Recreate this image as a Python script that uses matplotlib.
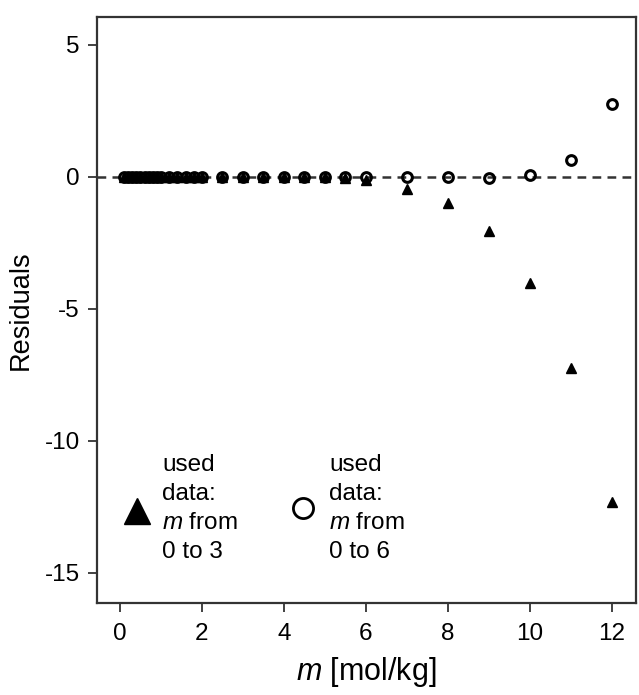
import matplotlib
matplotlib.use("Agg")
import matplotlib.pyplot as plt

plt.rcParams['font.family'] = ['Liberation Sans', 'DejaVu Sans']
plt.rcParams['mathtext.fontset'] = 'custom'
plt.rcParams['mathtext.it'] = 'Liberation Sans:italic'
plt.rcParams['mathtext.rm'] = 'Liberation Sans'
plt.rcParams['axes.unicode_minus'] = False

m_values = [0.1, 0.2, 0.3, 0.4, 0.5, 0.6, 0.7, 0.8, 0.9, 1.0,
            1.2, 1.4, 1.6, 1.8, 2.0, 2.5, 3.0, 3.5, 4.0, 4.5, 5.0, 5.5, 6.0,
            7, 8, 9, 10, 11, 12]
resid_fit_0_3 = [0]*21 + [-0.03, -0.1,
                 -0.45, -0.97, -2.05, -4.02, -7.25, -12.33]
resid_fit_0_6 = [0]*23 + [0.0, -0.01, -0.05, 0.07, 0.63, 2.75]

xticks = [0, 2, 4, 6, 8, 10, 12]
yticks = [5, 0, -5, -10, -15]

fig = plt.figure(figsize=(6.39, 6.95), dpi=100)
ax = fig.add_axes([97/639, 1 - 603/695, (636-97)/639, (603-17)/695])

ax.axhline(0, color='#333333', lw=1.8, ls=(0, (3.5, 2.5)), zorder=1)
ax.plot(m_values, resid_fit_0_3, ls='none', marker='^', ms=7.5, mfc='black',
        mec='black', zorder=3)
ax.plot(m_values, resid_fit_0_6, ls='none', marker='o', ms=7, mfc='none',
        mec='black', mew=2.2, zorder=4)

ax.set_xlim(-0.56, 12.59)
ax.set_ylim(-16.14, 6.06)
ax.set_xticks(xticks)
ax.set_yticks(yticks)
ax.tick_params(direction='out', length=6.5, width=1.3, labelsize=17.5, pad=6,
               color='#333333')
ax.tick_params(axis='x', pad=8)
for s in ax.spines.values():
    s.set_linewidth(1.6)
    s.set_color('#333333')

ax.set_xlabel(r'$m$ [mol/kg]', fontsize=22, labelpad=7)
ax.set_ylabel('Residuals', fontsize=19.5, labelpad=8)

# legend drawn as text
ax.plot([0.42], [-12.65], marker='^', ms=19, color='black', ls='none')
ax.text(1.03, -12.55, 'used\ndata:\n$m$ from\n0 to 3', fontsize=17.5,
        va='center', ha='left', linespacing=1.42)
ax.plot([4.47], [-12.55], marker='o', ms=14.5, mfc='none', mec='black',
        mew=2.0, ls='none')
ax.text(5.1, -12.55, 'used\ndata:\n$m$ from\n0 to 6', fontsize=17.5,
        va='center', ha='left', linespacing=1.42)

fig.savefig('out.png', dpi=100)
